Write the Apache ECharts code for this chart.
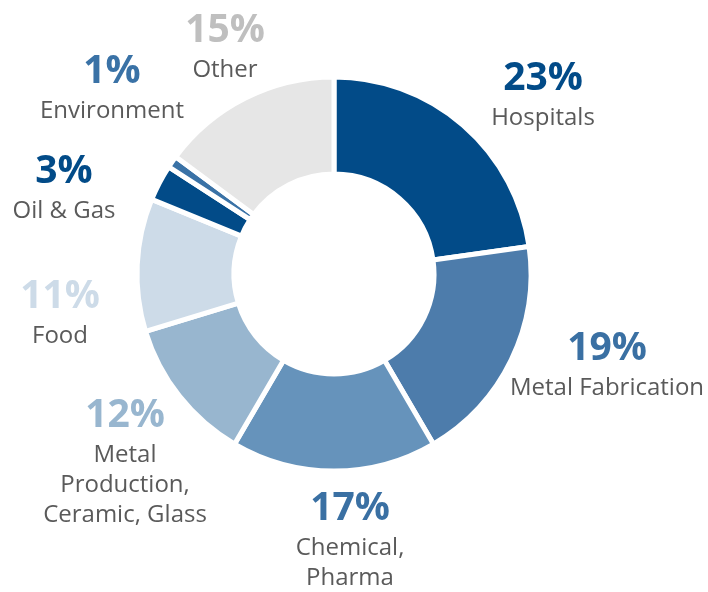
<!DOCTYPE html>
<html>
<head>
<meta charset="utf-8">
<script src="https://cdn.jsdelivr.net/npm/echarts@6/dist/echarts.min.js"></script>
<style>html,body{margin:0;padding:0;background:#fff}#c{width:708px;height:592px}</style>
</head>
<body>
<div id="c"></div>
<script>
const categories = ['Hospitals', 'Metal Fabrication', 'Chemical,\nPharma', 'Metal\nProduction,\nCeramic, Glass', 'Food', 'Oil & Gas', 'Environment', 'Other'];
const shares = [23, 19, 17, 12, 11, 3, 1, 15];
const sliceColors = ['#024b88', '#4d7cab', '#6693bb', '#98b6cf', '#cddbe8', '#024b88', '#3a72a6', '#e6e6e6'];
const pctColors = ['#024b88', '#3a70a3', '#3a70a3', '#98b6cf', '#cddbe8', '#024b88', '#3a72a6', '#bfbfbf'];
// label anchor (centre of block) in pixels
const labelPos = [[543, 94], [607, 364], [350, 539], [125, 461], [60, 312], [64, 187], [112, 87], [225, 46]];

const rich = { n: { fontFamily: 'Open Sans', fontSize: 24, color: '#5a5a5a', lineHeight: 30, align: 'center' } };
pctColors.forEach((c, i) => {
  rich['p' + i] = { fontFamily: 'Open Sans', fontWeight: 'bold', fontSize: 39, color: c, lineHeight: 48, align: 'center' };
});

const chart = echarts.init(document.getElementById('c'), null, { renderer: 'canvas' });
chart.setOption({
  animation: false,
  series: [{
    type: 'pie',
    center: [334, 274],
    radius: [100, 197],
    startAngle: 90,
    clockwise: true,
    avoidLabelOverlap: false,
    itemStyle: { borderColor: '#ffffff', borderWidth: 5 },
    label: {
      show: true,
      position: 'outside',
      align: 'center',
      formatter: function (p) {
        const i = p.dataIndex;
        return '{p' + i + '|' + shares[i] + '%}\n' + categories[i].split('\n').map(s => '{n|' + s + '}').join('\n');
      },
      rich: rich
    },
    labelLine: { show: false },
    labelLayout: function (params) {
      const p = labelPos[params.dataIndex];
      return { x: p[0], y: p[1], align: 'center', verticalAlign: 'middle' };
    },
    emphasis: { disabled: true },
    data: categories.map((c, i) => ({ name: c, value: shares[i], itemStyle: { color: sliceColors[i] } }))
  }]
});
</script>
</body>
</html>
